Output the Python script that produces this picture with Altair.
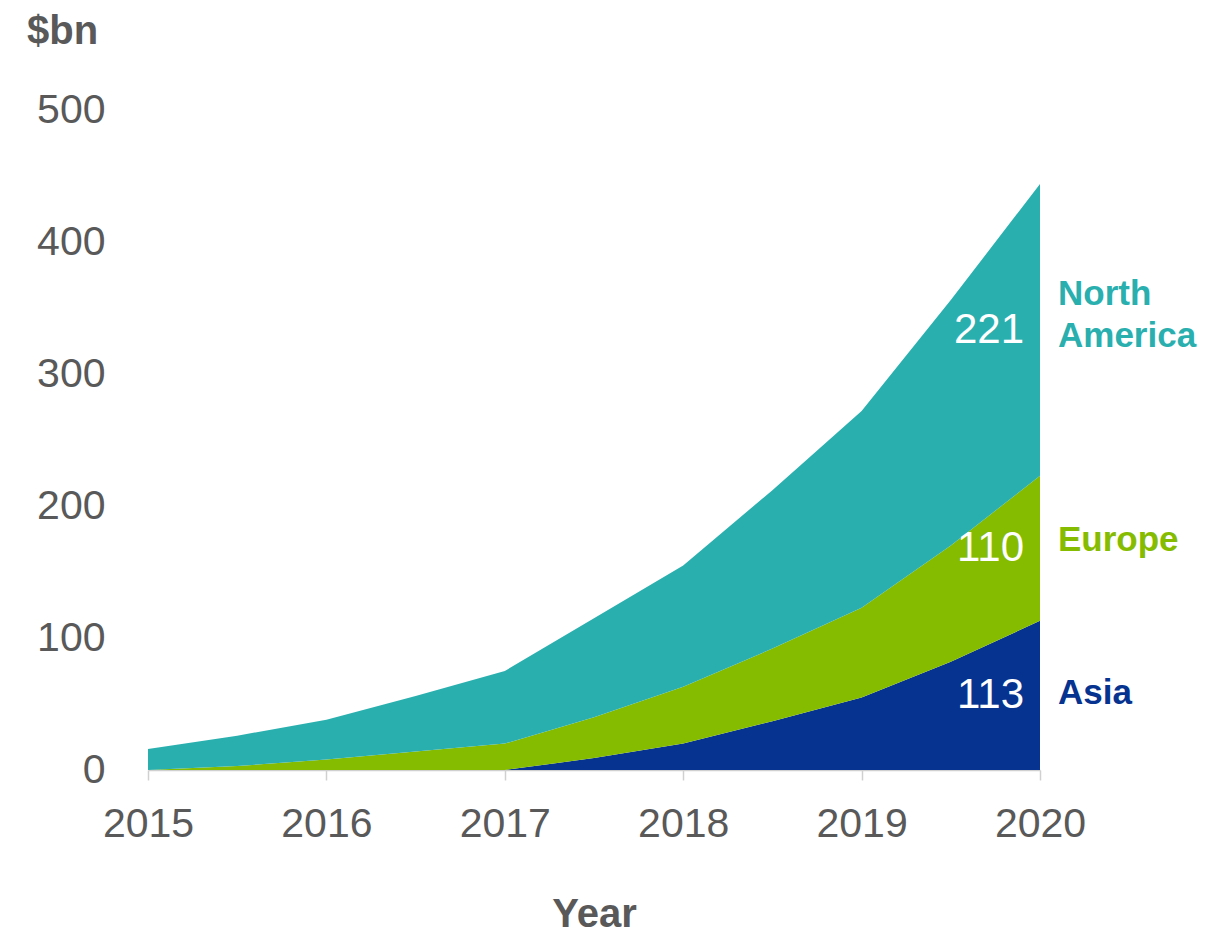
import altair as alt
import pandas as pd

years = [2015, 2015.5, 2016, 2016.5, 2017, 2017.5, 2018, 2018.5, 2019, 2019.5, 2020]
asia = [0, 0, 0, 0, 0, 9, 20, 37, 55, 82, 113]
europe = [0, 3, 8, 14, 20, 31, 43, 55, 68, 88, 110]
north_america = [16, 23, 30, 42, 55, 75, 92, 120, 149, 186, 221]

regions = ["Asia", "Europe", "North America"]
region_labels = ["Asia", "Europe", "North\nAmerica"]
colors = ["#06338F", "#86BC00", "#2AAFAF"]
y_ticks = [0, 100, 200, 300, 400, 500]
x_ticks = [2015, 2016, 2017, 2018, 2019, 2020]

FONT = "Liberation Sans"
GREY = "#595959"

series = {"Asia": asia, "Europe": europe, "North America": north_america}
rows = []
for i, r in enumerate(regions):
    for yr, v in zip(years, series[r]):
        rows.append({"year": yr, "value": v, "region": r, "ord": i})
df = pd.DataFrame(rows)

# end labels at segment midpoints
last = [series[r][-1] for r in regions]
mids = []
cum = 0
for v in last:
    mids.append(cum + v / 2)
    cum += v
lab = pd.DataFrame({
    "region": regions,
    "value": last,
    "mid": mids,
    "name": region_labels,
    "year": [years[-1]] * 3,
})

xs = alt.Scale(domain=[2015, 2020], nice=False, zero=False)
ys = alt.Scale(domain=[0, 500], nice=False)
cs = alt.Scale(domain=regions, range=colors)

area = alt.Chart(df).mark_area(interpolate="linear").encode(
    x=alt.X("year:Q", scale=xs,
            axis=alt.Axis(values=x_ticks, format="d", title="Year",
                          labelFontSize=41, labelFont=FONT, labelColor=GREY,
                          labelPadding=24, tickSize=10, tickColor="#d0d0d0",
                          domainColor="#d0d0d0", domainWidth=1.5, tickWidth=1.5,
                          grid=False, titleFont=FONT, titleFontSize=40,
                          titleFontWeight="bold", titleColor=GREY,
                          titlePadding=50, labelFlush=False)),
    y=alt.Y("value:Q", stack="zero", scale=ys,
            axis=alt.Axis(values=y_ticks, title=None, domain=False, ticks=False,
                          grid=False, labelFontSize=41, labelFont=FONT,
                          labelColor=GREY, labelPadding=43)),
    color=alt.Color("region:N", scale=cs, legend=None),
    order=alt.Order("ord:Q"),
)

nums = alt.Chart(lab).mark_text(
    align="right", baseline="middle", dx=-16, fontSize=42, font=FONT, color="white"
).encode(
    x=alt.X("year:Q", scale=xs),
    y=alt.Y("mid:Q", scale=ys),
    text=alt.Text("value:Q", format="d"),
)

def name_layer(region, dy):
    return alt.Chart(lab).transform_filter(
        alt.datum.region == region
    ).mark_text(
        align="left", baseline="middle", dx=18, dy=dy, fontSize=35, font=FONT,
        fontWeight="bold", lineBreak="\n", lineHeight=42
    ).encode(
        x=alt.X("year:Q", scale=xs),
        y=alt.Y("mid:Q", scale=ys),
        text="name:N",
        color=alt.Color("region:N", scale=cs, legend=None),
    )

names = name_layer("Asia", -2) + name_layer("Europe", -8) + name_layer("North America", -36)

unit = alt.Chart(pd.DataFrame({"t": ["$bn"]})).mark_text(
    align="left", baseline="middle", fontSize=40, font=FONT, fontWeight="bold",
    color=GREY
).encode(
    x=alt.value(-121), y=alt.value(-78), text="t:N"
)

chart = alt.layer(area, nums, names, unit).properties(
    width=892, height=660,
    autosize=alt.AutoSizeParams(type="none"),
    padding={"left": 148, "top": 110, "right": 188, "bottom": 169},
    background="white",
).configure_view(stroke=None)

chart.save("out.html", embed_options={"renderer": "svg", "actions": False})
